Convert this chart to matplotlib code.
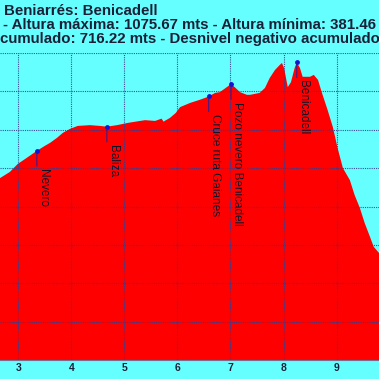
import numpy as np
import matplotlib
matplotlib.use("Agg")
import matplotlib.pyplot as plt

# perfil (km, metros)
dist = [2.655, 2.84, 2.99, 3.13, 3.35, 3.50, 3.60, 3.73, 3.84, 3.97, 4.12, 4.35,
        4.54, 4.67, 4.86, 5.07, 5.16, 5.39, 5.58, 5.70, 5.74, 5.76, 5.86, 5.97,
        6.05, 6.24, 6.42, 6.56, 6.59, 6.71, 6.80, 6.91, 7.01, 7.08, 7.18, 7.31,
        7.37, 7.55, 7.65, 7.74, 7.84, 7.93, 7.97, 8.01, 8.08, 8.14, 8.21, 8.25,
        8.31, 8.36, 8.50, 8.57, 8.65, 8.72, 8.83, 8.93, 9.02, 9.12, 9.25, 9.34,
        9.44, 9.53, 9.63, 9.70, 9.80]
alt = [774, 790, 811, 824, 845, 858, 866, 879, 892, 902, 910, 912,
       910, 908, 912, 918, 920, 925, 923, 929, 921, 923, 931, 944,
       959, 970, 978, 985, 987, 996, 998, 1009, 1019, 1011, 998, 991,
       991, 996, 1009, 1035, 1056, 1069, 1074, 1061, 1011, 1024, 1061, 1075.67,
       1061, 1038, 1038, 1043, 1030, 998, 952, 907, 852, 800, 769, 730,
       696, 657, 621, 595, 579]

# puntos de interes
wp_km = [3.35, 4.67, 6.59, 7.01, 8.25]
wp_alt = [845, 908, 987, 1019, 1075.67]
wp_name = ["Nevero", "Baliza", "Cruce ruta Gaianes", "Pozo nevero Benicadell", "Benicadell"]

titulo = ["Beniarrés: Benicadell",
          "- Altura máxima: 1075.67 mts - Altura mínima: 381.46 mts",
          "cumulado: 716.22 mts - Desnivel negativo acumulado: 1110.43 mts"]

bg = "#66ffff"
txt = "#1a2038"
W = 379

fig = plt.figure(figsize=(3.79, 3.79), dpi=100, facecolor=bg)
ax = fig.add_axes([0, 19 / W, 1, 307 / W])
ax.set_facecolor(bg)

ax.fill_between(dist, 300, alt, color="#ff0000", lw=0, zorder=1)
ax.set_xlim(2.655, 9.80)
ax.set_ylim(300, 1100)
ax.set_xticks([3, 4, 5, 6, 7, 8, 9])
ax.set_yticks(np.arange(300, 1101, 100))
ax.grid(True, color="#3a3a88", lw=0.8, ls=(0, (1, 1)), alpha=0.9, zorder=2)
ax.set_axisbelow(False)
for s in ["top", "left", "right"]:
    ax.spines[s].set_visible(False)
ax.spines["bottom"].set_color("#707090")
ax.spines["bottom"].set_zorder(3)
ax.tick_params(axis="x", length=0, pad=2, labelsize=7.5, labelcolor=txt)
ax.tick_params(axis="y", length=0, labelleft=False)
for lb in ax.get_xticklabels():
    lb.set_fontweight("bold")
    lb.set_family("Liberation Sans")

ax.scatter(wp_km, wp_alt, s=6, color="#1010e0", zorder=4)
for k, a, n in zip(wp_km, wp_alt, wp_name):
    ax.annotate(n, xy=(k, a), xytext=(0, -13), textcoords="offset points",
                rotation=-90, ha="left", va="top", fontsize=8.5,
                family="Liberation Sans", color="#141428", zorder=5,
                arrowprops=dict(arrowstyle="-", color="#2020a0", lw=0.7,
                                relpos=(0, 1), shrinkA=0, shrinkB=0))

xs = [4, 3, 0.5]
bases = [15, 29, 43]
for t, x, b in zip(titulo, xs, bases):
    fig.text(x / W, 1 - b / W, t, ha="left", va="baseline", fontsize=10.8,
             fontweight="bold", family="Liberation Sans", color=txt)

fig.savefig("out.png", dpi=100, facecolor=bg)
